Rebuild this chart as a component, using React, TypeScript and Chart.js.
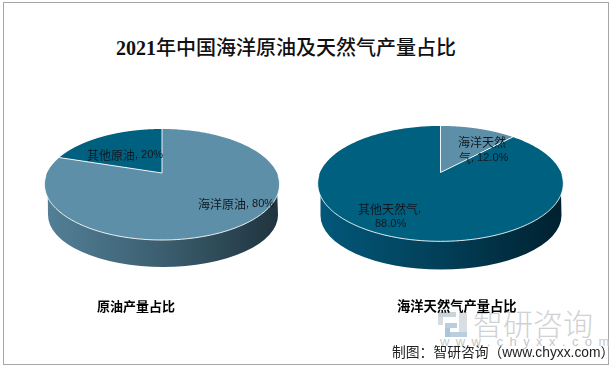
import React, { useEffect, useRef } from "react";
import { Chart, registerables } from "chart.js";

Chart.register(...registerables);

const chartYear = "2021";
const chartTitle = "年中国海洋原油及天然气产量占比";
const footerText = "制图：智研咨询（www.chyxx.com）";
const watermarkName = "智研咨询";
const watermarkSite = "www.chyxx.com";

const oilCategories = ["海洋原油", "其他原油"];
const oilValues = [80, 20];
const oilLabels = ["海洋原油, 80%", "其他原油, 20%"];
const oilCaption = "原油产量占比";

const gasCategories = ["海洋天然气", "其他天然气"];
const gasValues = [12, 88];
const gasLabels = [["海洋天然", "气, 12.0%"], ["其他天然气,", "88.0%"]];
const gasCaption = "海洋天然气产量占比";

type PieCfg = {
  categories: string[];
  values: number[];
  colors: string[];
  left: number;
  top: number;
  size: number;
  persp: number;
  squash: number;
  wall: { dx: number; dy: number; rx: number; ry: number; stops: string[] };
  labels: { lines: string[]; x: number[]; y: number[] }[];
};

function drawRuns(ctx: CanvasRenderingContext2D, text: string, x: number, y: number) {
  const runs = text.match(/[\u4e00-\u9fff]+|[^\u4e00-\u9fff]+/g) || [];
  let cur = x;
  runs.forEach((run) => {
    const isCjk = /[\u4e00-\u9fff]/.test(run);
    ctx.font = isCjk ? "12px 'Noto Sans CJK SC'" : "11px 'Liberation Sans'";
    ctx.fillText(run, cur, y);
    cur += ctx.measureText(run).width;
  });
}

function makePlugin(cfg: PieCfg) {
  return {
    id: "pie3d",
    beforeDatasetsDraw(chart: any) {
      const ctx = chart.ctx as CanvasRenderingContext2D;
      const arcs = chart.getDatasetMeta(0).data as any[];
      const { x, y, outerRadius: r } = arcs[0];
      const pt = (a: number) => {
        const d = 1 + cfg.persp * Math.sin(a);
        return [x + (r * Math.cos(a)) / d, y + (cfg.squash * r * Math.sin(a)) / d];
      };
      const w = cfg.wall;
      const cx = x + w.dx;
      const cy = y + w.dy;
      const g = ctx.createLinearGradient(cx - w.rx, 0, cx + w.rx, 0);
      g.addColorStop(0, w.stops[0]);
      g.addColorStop(0.5, w.stops[1]);
      g.addColorStop(1, w.stops[2]);
      ctx.save();
      ctx.fillStyle = g;
      ctx.beginPath();
      ctx.ellipse(cx, cy, w.rx, w.ry, 0, 0, Math.PI);
      const lt = pt(Math.PI + 0.02);
      const rt = pt(-0.02);
      ctx.lineTo(lt[0], lt[1]);
      ctx.lineTo(rt[0], rt[1]);
      ctx.closePath();
      ctx.fill();

      arcs.forEach((arc, i) => {
        ctx.beginPath();
        ctx.moveTo(x, y);
        const n = 240;
        for (let k = 0; k <= n; k++) {
          const p = pt(arc.startAngle + ((arc.endAngle - arc.startAngle) * k) / n);
          ctx.lineTo(p[0], p[1]);
        }
        ctx.closePath();
        ctx.fillStyle = cfg.colors[i];
        ctx.fill();
      });

      ctx.strokeStyle = "rgba(255,255,255,0.9)";
      ctx.lineWidth = 1;
      arcs.forEach((arc) => {
        const p = pt(arc.startAngle);
        ctx.beginPath();
        ctx.moveTo(x, y);
        ctx.lineTo(p[0], p[1]);
        ctx.stroke();
      });
      ctx.beginPath();
      for (let k = 0; k <= 180; k++) {
        const p = pt(0.05 + ((Math.PI - 0.1) * k) / 180);
        if (k === 0) ctx.moveTo(p[0], p[1]);
        else ctx.lineTo(p[0], p[1]);
      }
      ctx.stroke();
      ctx.restore();
    },
    beforeDatasetDraw() {
      return false;
    },
    afterDatasetsDraw(chart: any) {
      const ctx = chart.ctx as CanvasRenderingContext2D;
      ctx.save();
      ctx.fillStyle = "#111820";
      ctx.textBaseline = "middle";
      ctx.textAlign = "left";
      cfg.labels.forEach((l) => {
        l.lines.forEach((t, i) => drawRuns(ctx, t, l.x[i] - cfg.left, l.y[i] - cfg.top));
      });
      ctx.restore();
    },
  };
}

function Pie3D({ cfg }: { cfg: PieCfg }) {
  const ref = useRef<HTMLCanvasElement>(null);
  useEffect(() => {
    const chart = new Chart(ref.current as HTMLCanvasElement, {
      type: "pie",
      data: {
        labels: cfg.categories,
        datasets: [{ data: cfg.values, backgroundColor: cfg.colors, borderWidth: 0 }],
      },
      options: {
        animation: false,
        responsive: false,
        maintainAspectRatio: false,
        layout: { padding: 20 },
        plugins: { legend: { display: false }, tooltip: { enabled: false } },
      },
      plugins: [makePlugin(cfg)],
    } as any);
    return () => chart.destroy();
  }, [cfg]);
  return (
    <canvas
      ref={ref}
      width={cfg.size}
      height={cfg.size}
      style={{ position: "absolute", left: cfg.left, top: cfg.top, width: cfg.size, height: cfg.size }}
    />
  );
}

const oilCfg: PieCfg = {
  categories: oilCategories,
  values: oilValues,
  colors: ["#5E8FA8", "#00607F"],
  left: 27,
  top: 38,
  size: 270,
  persp: -0.207,
  squash: 0.462,
  wall: { dx: 1, dy: 42, rx: 115, ry: 52, stops: ["#527F96", "#3B5E6F", "#20343E"] },
  labels: [
    { lines: [oilLabels[0]], x: [198], y: [204] },
    { lines: [oilLabels[1]], x: [87], y: [155] },
  ],
};

const gasCfg: PieCfg = {
  categories: gasCategories,
  values: gasValues,
  colors: ["#5E8FA8", "#00607F"],
  left: 300,
  top: 32,
  size: 281,
  persp: -0.193,
  squash: 0.461,
  wall: { dx: 0.5, dy: 43, rx: 120.5, ry: 54, stops: ["#02577A", "#023F58", "#00212F"] },
  labels: [
    { lines: gasLabels[0], x: [458, 459], y: [142, 158] },
    { lines: gasLabels[1], x: [358, 375], y: [209, 224] },
  ],
};

const abs = (o: React.CSSProperties): React.CSSProperties => ({ position: "absolute", whiteSpace: "nowrap", ...o });

export default function App() {
  return (
    <div style={{ position: "absolute", left: 0, top: 0, width: 611, height: 369, background: "#fff", overflow: "hidden" }}>
      <div style={abs({ left: 3, top: 2, width: 604, height: 361, border: "1px solid #a6a6a6" })} />
      <div style={abs({ left: 116, top: 34, fontFamily: "'Liberation Serif','Noto Sans CJK SC',serif", fontWeight: 500, fontSize: 20, lineHeight: "28px", color: "#111" })}>
        <span style={{ fontWeight: 700 }}>{chartYear}</span>
        {chartTitle}
      </div>
      {/* watermark */}
      <div style={abs({ left: 438, top: 312, width: 18, height: 5, background: "#c9d3da" })} />
      <div style={abs({ left: 438, top: 317, width: 5, height: 8, background: "#d5dde3" })} />
      <div style={abs({ left: 459, top: 312, width: 8, height: 25, background: "#d9dee2" })} />
      <div style={abs({ left: 445, top: 323, width: 12, height: 5, background: "#b9cfdf" })} />
      <div style={abs({ left: 445, top: 328, width: 5, height: 9, background: "#a9c6db" })} />
      <div style={abs({ left: 450, top: 332, width: 17, height: 5, background: "#b9cfdf" })} />
      <div style={abs({ left: 473, top: 302, fontFamily: "'Noto Sans CJK SC'", fontWeight: 300, fontSize: 30, lineHeight: "40px", color: "#cfd2d4" })}>{watermarkName}</div>
      <div style={abs({ left: 440, top: 333, fontFamily: "'Liberation Sans'", fontSize: 13, lineHeight: "18px", letterSpacing: 6.4, color: "#c4c7ca" })}>{watermarkSite}</div>

      <Pie3D cfg={oilCfg} />
      <Pie3D cfg={gasCfg} />

      <div style={abs({ left: 97, top: 297, fontFamily: "'Noto Sans CJK SC'", fontWeight: 700, fontSize: 13, lineHeight: "18px", color: "#000" })}>{oilCaption}</div>
      <div style={abs({ left: 397, top: 297, fontFamily: "'Noto Sans CJK SC'", fontWeight: 700, fontSize: 13.3, lineHeight: "18px", color: "#000" })}>{gasCaption}</div>
      <div style={abs({ left: 392, top: 344, fontFamily: "'Liberation Sans','Noto Sans CJK SC'", fontSize: 13.8, lineHeight: "18px", color: "#222" })}>{footerText}</div>
    </div>
  );
}
